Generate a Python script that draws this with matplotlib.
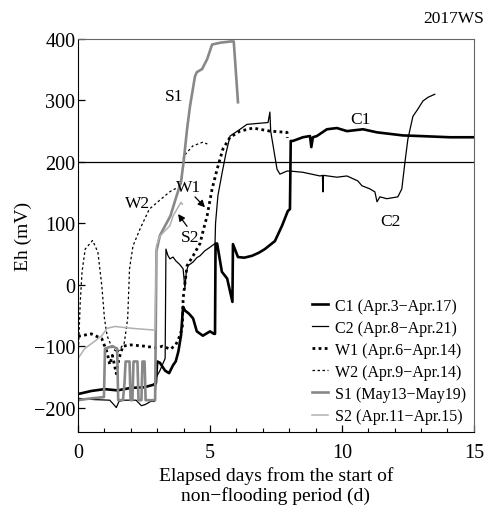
import matplotlib
matplotlib.use("Agg")
import matplotlib.pyplot as plt

plt.rcParams['font.family'] = ['Liberation Serif', 'DejaVu Serif']

# Eh readings (day, mV)
c1_day = [0, 0.5, 1, 1.5, 2, 2.5, 2.85, 2.95, 3.0, 3.1, 3.3, 3.45, 3.6, 3.7, 3.8, 3.9, 3.98,
          4.05, 4.2, 4.36, 4.5, 4.73, 5.0, 5.15, 5.19, 5.21, 5.27, 5.45, 5.65, 5.85, 5.87,
          6.06, 6.3, 6.59, 6.85, 7.08, 7.46, 7.73, 7.95, 8.03, 8.06, 8.14, 8.52, 8.79, 8.84,
          8.9, 9.05, 9.43, 9.81, 10.19, 10.8, 11.33, 12.31, 12.95, 14.09, 15]
c1_eh = [-178, -173, -170, -172, -168, -167, -163, -160, -125, -127, -140, -144, -131, -125,
         -109, -83, -36, -42, -47, -55, -76, -83, -76, -80, -80, 67, 67, 21, 10, -28, 66,
         45, 44, 47, 52, 58, 71, 96, 120, 123, 234, 234, 240, 242, 224, 240, 242, 253, 255,
         250, 253, 248, 243, 242, 240, 240]

c2_day = [0, 0.6, 1.2, 1.35, 1.45, 1.55, 1.7, 2.2, 2.4, 2.55, 2.75, 2.9, 2.97, 3.1, 3.25,
          3.3, 3.33, 3.4, 3.48, 3.6, 3.7, 3.85, 3.98, 4.05, 4.1, 4.17, 4.36, 4.5, 4.62,
          4.8, 5.0, 5.19, 5.21, 5.3, 5.45, 5.6, 5.76, 6.14, 6.4, 7.2, 7.27, 7.3, 7.54,
          7.65, 7.92, 8.03, 8.52, 9.17, 9.26, 9.28, 9.3, 9.81, 10.19, 10.6, 10.76, 11.06,
          11.25, 11.33, 11.44, 11.7, 12.12, 12.27, 12.39, 12.5, 12.69, 12.88, 13.07, 13.26,
          13.52]
c2_eh = [-185, -187, -188, -195, -200, -190, -188, -188, -197, -195, -190, -190, -150, -140,
         -125, -120, 58, 48, 42, 45, 39, 33, 26, -6, 20, 31, 37, 44, 47, 55, 61, 67, 100,
         145, 180, 213, 242, 253, 261, 264, 281, 250, 188, 180, 185, 185, 183, 177, 178,
         151, 178, 175, 177, 169, 161, 156, 151, 135, 143, 140, 143, 156, 200, 237, 274,
         286, 299, 305, 310]

w1_day = [0, 0.5, 0.9, 1.1, 1.2, 1.3, 1.45, 1.55, 1.7, 2.0, 2.5, 3.0, 3.2, 3.5, 3.7, 3.85,
          3.95, 3.98, 4.13, 4.36, 4.62, 4.73, 4.89, 5.08, 5.27, 5.49, 5.76, 6.14, 6.63,
          7.27, 7.92, 7.93]
w1_eh = [-84, -80, -88, -110, -130, -115, -145, -120, -100, -98, -100, -103, -100, -105,
         -98, -84, -70, -23, 31, 47, 67, 86, 112, 156, 188, 221, 240, 250, 255, 250, 248, 239]

w2_day = [0, 0.08, 0.15, 0.27, 0.55, 0.75, 0.9, 1.0, 1.1, 1.3, 1.5, 1.75, 1.88, 1.95, 2.08,
          2.35, 2.7, 3.3, 3.5, 3.9, 3.95, 4.0, 4.35, 4.73, 4.9]
w2_eh = [-122, -30, 21, 58, 72, 53, -2, -55, -83, -104, -110, -95, -55, 26, 63, 91, 123,
         145, 152, 161, 185, 209, 226, 232, 229]

s1_day = [0, 0.5, 0.98, 1.02, 1.3, 1.48, 1.52, 1.7, 1.76, 1.8, 1.95, 1.99, 2.06, 2.1, 2.25,
          2.29, 2.4, 2.44, 2.52, 2.56, 2.92, 2.97, 3.1, 3.3, 3.5, 3.7, 3.9, 4.0, 4.13, 4.24,
          4.43, 4.5, 4.7, 4.89, 5.08, 5.4, 5.8, 5.9, 6.06]
s1_eh = [-188, -185, -183, -104, -100, -104, -188, -188, -160, -125, -125, -188, -188, -125,
         -125, -188, -188, -125, -125, -188, -188, 55, 80, 96, 112, 140, 167, 200, 253, 290,
         339, 346, 351, 367, 391, 394, 396, 396, 297]

s2_day = [0, 0.25, 0.6, 0.9, 1.1, 1.4, 2.05, 2.92, 2.97, 3.1, 3.48, 3.6, 3.9, 3.95]
s2_eh = [-120, -104, -93, -83, -71, -68, -71, -74, 63, 79, 96, 112, 134, 131]

labels = ['C1 (Apr.3\u2212Apr.17)', 'C2 (Apr.8\u2212Apr.21)', 'W1 (Apr.6\u2212Apr.14)',
          'W2 (Apr.9\u2212Apr.14)', 'S1 (May13\u2212May19)', 'S2 (Apr.11\u2212Apr.15)']

fig = plt.figure(figsize=(4.88, 5.06), dpi=100)
ax = fig.add_axes([0.16, 0.144, 0.811, 0.777])

ax.axhline(200, color='black', lw=0.9, zorder=1)
ax.plot(c1_day, c1_eh, color='black', lw=1.9, label=labels[0])
ax.plot(c2_day, c2_eh, color='black', lw=0.9, label=labels[1])
ax.plot(w1_day, w1_eh, color='black', lw=2.0, ls=(0, (1, 1.2)), label=labels[2])
ax.plot(w2_day, w2_eh, color='black', lw=0.9, ls=(0, (2, 2)), label=labels[3])
ax.plot(s1_day, s1_eh, color='#888888', lw=1.9, label=labels[4])
ax.plot(s2_day, s2_eh, color='#b0b0b0', lw=1.1, label=labels[5])

ax.set_xlim(0, 15)
ax.set_ylim(-240, 400)
ax.set_xticks([0, 5, 10, 15])
ax.set_xticks(range(16), minor=True)
ax.set_yticks(range(-200, 401, 100))
ax.tick_params(direction='in', labelsize=14.5, length=5, width=0.9)
ax.tick_params(axis='x', pad=8)
ax.tick_params(axis='y', pad=2)
ax.tick_params(which='minor', direction='in', length=3, width=0.8)
for s in ['top', 'right']:
    ax.spines[s].set_color('#666666')

ax.set_ylabel('Eh (mV)', fontsize=14, labelpad=1)
ax.set_xlabel('Elapsed days from the start of\nnon\u2212flooding period (d)', fontsize=14,
              labelpad=3, linespacing=1.1)
fig.text(0.992, 0.955, '2017WS', ha='right', fontsize=12.5)

ax.text(3.64, 307, 'S1', fontsize=12.5, ha='center', va='center')
ax.text(2.27, 133, 'W2', fontsize=12.5, ha='center', va='center')
ax.text(10.72, 270, 'C1', fontsize=12.5, ha='center', va='center')
ax.text(11.82, 104, 'C2', fontsize=12.5, ha='center', va='center')
ax.text(4.17, 159, 'W1', fontsize=12.5, ha='center', va='center')
ax.text(4.25, 78, 'S2', fontsize=12.5, ha='center', va='center')
arrow = dict(arrowstyle='-|>', color='black', lw=0.9, mutation_scale=10,
             shrinkA=0, shrinkB=0)
ax.annotate('', xy=(4.81, 126), xytext=(4.43, 143), arrowprops=arrow)
ax.annotate('', xy=(3.79, 115), xytext=(4.13, 95), arrowprops=arrow)

ax.legend(loc='lower right', frameon=False, fontsize=11.5, handlelength=1.0,
          handletextpad=0.4, labelspacing=0.38, borderaxespad=0.1)

fig.savefig('out.png', dpi=100)
